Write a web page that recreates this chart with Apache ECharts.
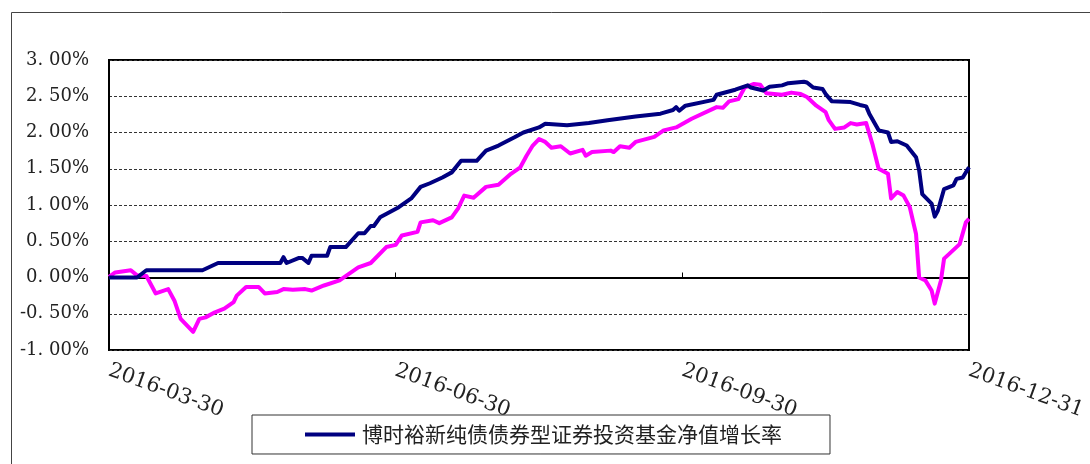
<!DOCTYPE html>
<html>
<head>
<meta charset="utf-8">
<script src="https://cdn.jsdelivr.net/npm/echarts@6/dist/echarts.min.js"></script>
<style>
  html, body { margin: 0; padding: 0; background: #fff; }
  #chart { width: 1090px; height: 464px; }
</style>
</head>
<body>
<div id="chart"></div>
<script>
// 基金净值增长率
var fundName = '博时裕新纯债债券型证券投资基金净值增长率';
var fundDates = ['2016-03-30','2016-04-08','2016-04-11','2016-04-29','2016-05-04','2016-05-24','2016-05-25','2016-05-26',
  '2016-05-30','2016-05-31','2016-06-02','2016-06-03','2016-06-08','2016-06-09','2016-06-14','2016-06-18','2016-06-20',
  '2016-06-22','2016-06-23','2016-06-25','2016-07-01','2016-07-05','2016-07-08','2016-07-11','2016-07-15','2016-07-18',
  '2016-07-21','2016-07-26','2016-07-29','2016-08-02','2016-08-07','2016-08-10','2016-08-15','2016-08-17','2016-08-24',
  '2016-08-31','2016-09-06','2016-09-15','2016-09-23','2016-09-27','2016-09-28','2016-09-29','2016-10-01','2016-10-10',
  '2016-10-11','2016-10-17','2016-10-21','2016-10-22','2016-10-26','2016-10-28','2016-11-01','2016-11-03','2016-11-08',
  '2016-11-09','2016-11-11','2016-11-14','2016-11-15','2016-11-17','2016-11-23','2016-11-26','2016-11-28','2016-11-29',
  '2016-12-02','2016-12-05','2016-12-06','2016-12-08','2016-12-11','2016-12-14','2016-12-15','2016-12-16','2016-12-19',
  '2016-12-20','2016-12-21','2016-12-23','2016-12-26','2016-12-27','2016-12-29','2016-12-31'];
var fundValues = [0.00,0.00,0.10,0.10,0.20,0.20,0.28,0.20,
  0.27,0.27,0.20,0.30,0.30,0.42,0.42,0.61,0.61,
  0.71,0.71,0.83,0.97,1.09,1.25,1.30,1.38,1.45,
  1.61,1.61,1.75,1.82,1.93,2.00,2.07,2.12,2.10,
  2.13,2.17,2.22,2.26,2.31,2.35,2.30,2.37,2.45,
  2.52,2.59,2.65,2.62,2.58,2.63,2.65,2.68,2.70,
  2.69,2.62,2.60,2.53,2.43,2.42,2.38,2.36,2.26,
  2.03,2.00,1.87,1.88,1.82,1.66,1.48,1.15,1.02,
  0.84,0.92,1.22,1.27,1.36,1.38,1.52];

// 业绩比较基准收益率
var benchName = '业绩比较基准收益率';
var benchDates = ['2016-03-30','2016-04-01','2016-04-06','2016-04-08','2016-04-11','2016-04-14','2016-04-18','2016-04-20',
  '2016-04-22','2016-04-26','2016-04-28','2016-04-30','2016-05-03','2016-05-06','2016-05-09','2016-05-10','2016-05-13',
  '2016-05-17','2016-05-19','2016-05-23','2016-05-25','2016-05-28','2016-06-01','2016-06-03','2016-06-07','2016-06-12',
  '2016-06-18','2016-06-22','2016-06-27','2016-06-30','2016-07-02','2016-07-07','2016-07-08','2016-07-12','2016-07-14',
  '2016-07-18','2016-07-20','2016-07-22','2016-07-25','2016-07-29','2016-08-02','2016-08-06','2016-08-09','2016-08-11',
  '2016-08-13','2016-08-15','2016-08-17','2016-08-19','2016-08-22','2016-08-25','2016-08-29','2016-08-30','2016-09-01',
  '2016-09-07','2016-09-08','2016-09-10','2016-09-13','2016-09-15','2016-09-21','2016-09-24','2016-09-28','2016-10-03',
  '2016-10-11','2016-10-13','2016-10-15','2016-10-18','2016-10-20','2016-10-23','2016-10-25','2016-10-27','2016-11-01',
  '2016-11-04','2016-11-07','2016-11-09','2016-11-12','2016-11-15','2016-11-16','2016-11-18','2016-11-21','2016-11-23',
  '2016-11-25','2016-11-28','2016-11-30','2016-12-02','2016-12-05','2016-12-06','2016-12-08','2016-12-10','2016-12-12',
  '2016-12-14','2016-12-15','2016-12-17','2016-12-19','2016-12-20','2016-12-22','2016-12-23','2016-12-25','2016-12-28',
  '2016-12-30','2016-12-31'];
var benchValues = [0.01,0.07,0.10,0.03,0.02,-0.22,-0.16,-0.32,
  -0.57,-0.75,-0.57,-0.55,-0.48,-0.43,-0.34,-0.25,-0.13,
  -0.13,-0.22,-0.20,-0.16,-0.17,-0.16,-0.18,-0.11,-0.04,
  0.14,0.20,0.42,0.45,0.58,0.63,0.76,0.79,0.75,
  0.83,0.95,1.13,1.10,1.25,1.28,1.43,1.52,1.68,
  1.82,1.91,1.87,1.79,1.81,1.71,1.76,1.68,1.73,
  1.75,1.73,1.81,1.79,1.87,1.94,2.03,2.07,2.19,
  2.35,2.34,2.43,2.46,2.62,2.67,2.66,2.54,2.52,
  2.55,2.53,2.49,2.37,2.28,2.17,2.05,2.07,2.13,
  2.11,2.13,1.84,1.50,1.43,1.09,1.18,1.13,0.97,
  0.60,0.00,-0.04,-0.18,-0.36,-0.04,0.26,0.34,0.46,
  0.76,0.81];

var xTickLabels = ['2016-03-30', '2016-06-30', '2016-09-30', '2016-12-31'];
var yMin = -1, yMax = 3, yStep = 0.5;

var startDate = xTickLabels[0];
var dayMs = 86400000;
function dayOffset(d) {
  return Math.round((Date.parse(d) - Date.parse(startDate)) / dayMs);
}
function toPairs(dates, values) {
  return dates.map(function (d, i) { return [dayOffset(d), values[i]]; });
}
var xMax = dayOffset(xTickLabels[xTickLabels.length - 1]);
var xStep = dayOffset(xTickLabels[1]);

var option = {
  animation: false,
  backgroundColor: '#fff',
  graphic: [{
    type: 'rect',
    shape: { x: 11.5, y: 12.5, width: 1200, height: 600 },
    style: { fill: 'none', stroke: '#444', lineWidth: 1 },
    z: -1
  }],
  grid: {
    left: 109, top: 60, width: 860, height: 290,
    show: true, borderColor: '#000', borderWidth: 2
  },
  legend: {
    data: [fundName],
    left: 252, top: 415,
    padding: [9, 48, 9, 53],
    itemWidth: 50, itemHeight: 4, itemGap: 0,
    icon: 'rect',
    borderColor: '#333', borderWidth: 1,
    textStyle: { fontFamily: 'Noto Sans CJK SC', fontSize: 21, color: '#222', padding: [0, 0, 0, 2] }
  },
  xAxis: {
    type: 'value',
    min: 0, max: xMax, interval: xStep,
    axisLine: { show: true, lineStyle: { color: '#000', width: 2 } },
    axisTick: { show: true, inside: true, length: 5, lineStyle: { color: '#000' } },
    splitLine: { show: false },
    axisLabel: {
      rotate: -20, margin: 20,
      fontFamily: 'DejaVu Serif', fontSize: 21, color: '#222',
      formatter: function (v) { return xTickLabels[Math.round(v / xStep)] || ''; }
    }
  },
  yAxis: {
    type: 'value',
    min: yMin, max: yMax, interval: yStep,
    axisLine: { show: true, lineStyle: { color: '#000', width: 2 } },
    axisTick: { show: false },
    splitLine: { show: true, lineStyle: { color: '#333', type: [3, 2], width: 1 } },
    axisLabel: {
      margin: 20,
      fontFamily: 'DejaVu Serif', fontSize: 18, color: '#222',
      formatter: function (v) { return v.toFixed(2).replace('.', '. ') + '%'; }
    }
  },
  series: [
    {
      name: benchName, type: 'line', symbol: 'none',
      lineStyle: { color: '#ff00ff', width: 4, join: 'round' },
      itemStyle: { color: '#ff00ff' },
      data: toPairs(benchDates, benchValues)
    },
    {
      name: fundName, type: 'line', symbol: 'none',
      lineStyle: { color: '#000080', width: 4, join: 'round' },
      itemStyle: { color: '#000080' },
      data: toPairs(fundDates, fundValues)
    }
  ]
};

var myChart = echarts.init(document.getElementById('chart'));
myChart.setOption(option);
</script>
</body>
</html>
